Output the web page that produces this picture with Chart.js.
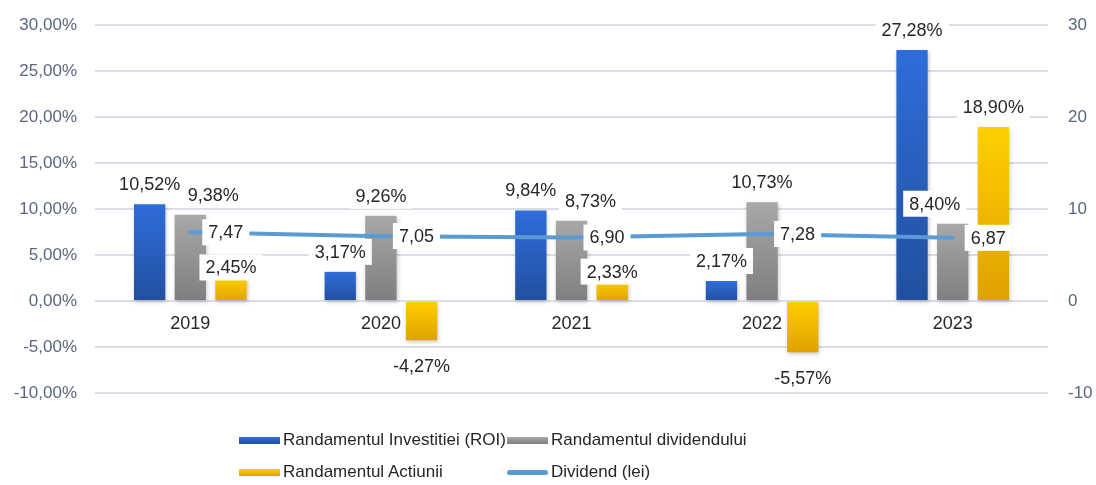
<!DOCTYPE html>
<html>
<head>
<meta charset="utf-8">
<script src="https://cdn.jsdelivr.net/npm/chart.js@4.4.1/dist/chart.umd.min.js"></script>
<style>
  html, body { margin: 0; padding: 0; background: #fff; }
  #wrap { position: relative; width: 1096px; height: 485px; }
  #legend {
    position: absolute; left: 239px; top: 424px;
    display: grid; grid-template-columns: 268px 268px; grid-auto-rows: 32px;
    font: 17px "Liberation Sans", Arial, sans-serif; color: #262626;
  }
  #legend .item { display: flex; align-items: center; white-space: nowrap; }
  #legend .box { width: 41px; height: 7px; margin-right: 3px; }
  #legend .ln { width: 41px; height: 5px; border-radius: 3px; margin-right: 3px; }
</style>
</head>
<body>
<div id="wrap">
  <canvas id="chart" width="1096" height="485"></canvas>
  <div id="legend"></div>
</div>
<script>
// values
const years = ['2019', '2020', '2021', '2022', '2023'];
const roi = [10.52, 3.17, 9.84, 2.17, 27.28];
const dividendYield = [9.38, 9.26, 8.73, 10.73, 8.40];
const shareReturn = [2.45, -4.27, 2.33, -5.57, 18.90];
const dividend = [7.47, 7.05, 6.90, 7.28, 6.87];

const seriesNames = ['Randamentul Investitiei (ROI)', 'Randamentul dividendului', 'Randamentul Actiunii', 'Dividend (lei)'];

const pctTicks = [-10, -5, 0, 5, 10, 15, 20, 25, 30];
const leiTicks = [-10, 0, 10, 20, 30];

const FONT = '"Liberation Sans", Arial, sans-serif';

const gradients = {
    0: ['#2F6DDA', '#214F9F'],
    1: ['#A8A8A8', '#7E7E7E'],
    2: ['#FFCF00', '#DFA100'],
};

function comma(v) {
    return v.toFixed(2).replace('.', ',');
}

function barFill(ctx) {
    const chart = ctx.chart;
    const stops = gradients[ctx.datasetIndex];
    if (!chart.chartArea || !chart.scales.y || ctx.parsed === undefined) return stops[0];
    const yScale = chart.scales.y;
    const v = ctx.parsed.y;
    const top = yScale.getPixelForValue(Math.max(v, 0));
    const bottom = yScale.getPixelForValue(Math.min(v, 0));
    const g = chart.ctx.createLinearGradient(0, top, 0, bottom + 1);
    g.addColorStop(0, stops[0]);
    g.addColorStop(1, stops[1]);
    return g;
}

// soft shadow under bars
const barShadow = {
    id: 'barShadow',
    beforeDatasetDraw(chart, args) {
        if (args.meta.type !== 'bar') return;
        const c = chart.ctx;
        c.save();
        c.shadowColor = 'rgba(0,0,0,0.22)';
        c.shadowBlur = 4;
        c.shadowOffsetX = 1;
        c.shadowOffsetY = 2;
    },
    afterDatasetDraw(chart, args) {
        if (args.meta.type !== 'bar') return;
        chart.ctx.restore();
    }
};

// labels with white boxes, like the excel data labels
const valueLabels = {
    id: 'valueLabels',
    afterDatasetsDraw(chart, args, opts) {
        const c = chart.ctx;
        c.save();
        c.font = '18px ' + FONT;
        c.textAlign = 'center';
        c.textBaseline = 'middle';
        chart.data.datasets.forEach((ds, di) => {
            const meta = chart.getDatasetMeta(di);
            meta.data.forEach((el, i) => {
                const v = ds.data[i];
                const isLine = meta.type === 'line';
                const text = isLine ? comma(v) : comma(v) + '%';
                const w = c.measureText(text).width + 12;
                const h = 26;
                let cx, cy;
                if (isLine) {
                    cx = el.x + 12 + w / 2;
                    cy = el.y;
                } else if (v >= 0) {
                    cx = el.x;
                    cy = el.y - 20;
                } else {
                    cx = el.x;
                    cy = el.y + 26;
                }
                const n = opts.nudge[di + '-' + i];
                if (n) { cx += n[0]; cy += n[1]; }
                c.fillStyle = '#ffffff';
                c.fillRect(cx - w / 2, cy - h / 2, w, h);
                c.fillStyle = '#262626';
                c.fillText(text, cx, cy + 1);
            });
        });
        c.restore();
    }
};

const config = {
    type: 'bar',
    data: {
        labels: years,
        datasets: [
            { label: seriesNames[0], data: roi, backgroundColor: barFill, yAxisID: 'y', order: 1 },
            { label: seriesNames[1], data: dividendYield, backgroundColor: barFill, yAxisID: 'y', order: 1 },
            { label: seriesNames[2], data: shareReturn, backgroundColor: barFill, yAxisID: 'y', order: 1 },
            {
                type: 'line', label: seriesNames[3], data: dividend, yAxisID: 'y1', order: 0,
                borderColor: '#5B9BD5', borderWidth: 4, pointRadius: 0, borderCapStyle: 'round',
                tension: 0, fill: false
            }
        ]
    },
    options: {
        responsive: false,
        animation: false,
        devicePixelRatio: 1,
        layout: { padding: { top: 25, bottom: 92, left: 0, right: 0 } },
        datasets: { bar: { categoryPercentage: 0.64, barPercentage: 0.77 } },
        scales: {
            x: {
                position: { y: 0 },
                offset: true,
                grid: { display: false, drawTicks: false },
                border: { display: false },
                ticks: { padding: 12, color: '#262626', font: { family: FONT, size: 18 } }
            },
            y: {
                position: 'left',
                min: -10, max: 30,
                afterBuildTicks(s) { s.ticks = pctTicks.map(v => ({ value: v })); },
                afterFit(s) { s.width = 95; s.paddingTop = 0; },
                grid: { color: '#D9DEE7', lineWidth: 2, drawTicks: false },
                border: { display: false },
                ticks: {
                    padding: 18, color: '#5A6780', font: { family: FONT, size: 17 },
                    callback: v => comma(v) + '%'
                }
            },
            y1: {
                position: 'right',
                min: -10, max: 30,
                afterBuildTicks(s) { s.ticks = leiTicks.map(v => ({ value: v })); },
                afterFit(s) { s.width = 48; s.paddingTop = 0; },
                grid: { display: false, drawTicks: false },
                border: { display: false },
                ticks: { padding: 20, color: '#5A6780', font: { family: FONT, size: 17 } }
            }
        },
        plugins: {
            legend: { display: false },
            tooltip: { enabled: false },
            valueLabels: {
                nudge: { '1-0': [23, 0], '2-0': [0, 9], '1-2': [19, 0], '2-2': [0, 12], '1-4': [-18, 0] }
            }
        }
    },
    plugins: [barShadow, valueLabels]
};

const chart = new Chart(document.getElementById('chart'), config);

// legend in two columns like the original
const legendEl = document.getElementById('legend');
chart.data.datasets.forEach((ds, di) => {
    const item = document.createElement('div');
    item.className = 'item';
    const mark = document.createElement('span');
    if (ds.type === 'line') {
        mark.className = 'ln';
        mark.style.background = ds.borderColor;
    } else {
        mark.className = 'box';
        const g = gradients[di];
        mark.style.background = 'linear-gradient(' + g[0] + ',' + g[1] + ')';
    }
    item.appendChild(mark);
    item.appendChild(document.createTextNode(ds.label));
    legendEl.appendChild(item);
});
</script>
</body>
</html>
